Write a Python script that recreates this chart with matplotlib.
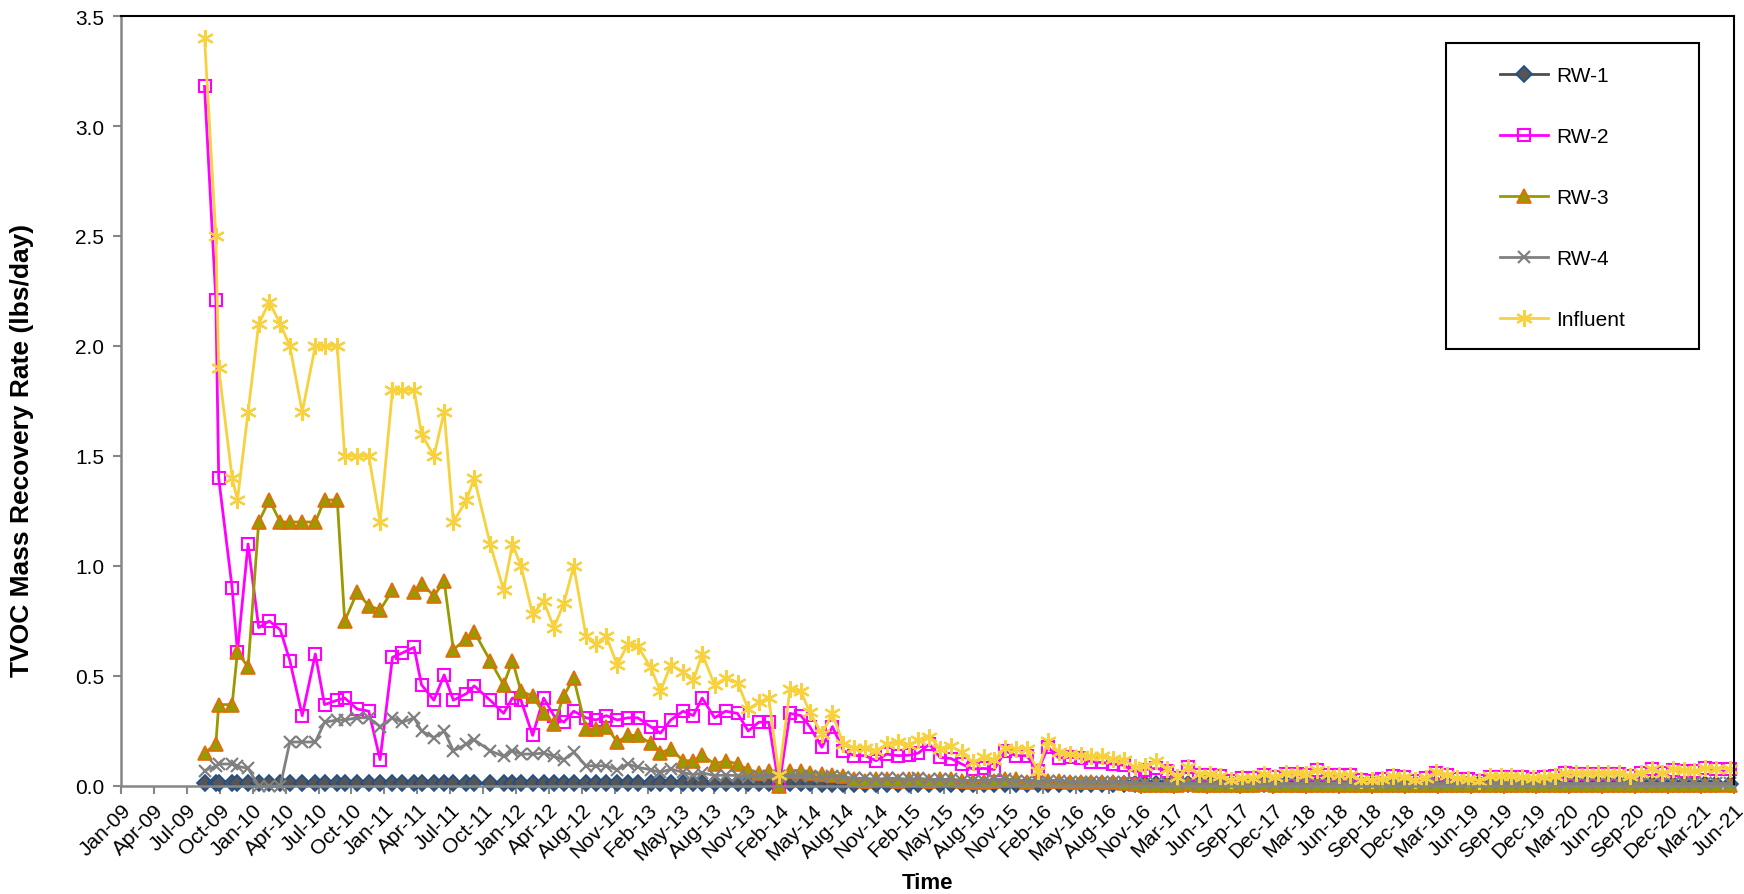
import matplotlib
matplotlib.use("Agg")
import matplotlib.pyplot as plt
from matplotlib.patches import Rectangle
import matplotlib.transforms as mtransforms
import numpy as np
import pandas as pd
import datetime as dt

plt.rcParams['font.family'] = ['Liberation Sans', 'DejaVu Sans']

# ---------------- data ----------------
sample_dates = [
    "2009-08-31", "2009-10-02", "2009-10-10", "2009-11-17", "2009-12-02",
    "2010-01-01", "2010-01-31", "2010-03-02", "2010-04-02", "2010-04-29",
    "2010-06-03", "2010-07-10", "2010-08-05", "2010-09-10", "2010-10-01",
    "2010-11-05", "2010-12-08", "2011-01-09", "2011-02-13", "2011-03-13",
    "2011-04-15", "2011-05-06", "2011-06-10", "2011-07-09", "2011-08-04",
    "2011-09-10", "2011-10-02", "2011-11-16", "2011-12-24", "2012-01-18",
    "2012-02-11", "2012-03-15", "2012-04-15", "2012-05-14", "2012-06-11",
    "2012-07-09", "2012-08-13", "2012-09-10", "2012-10-09", "2012-11-09",
    "2012-12-09", "2013-01-06", "2013-02-11", "2013-03-11", "2013-04-09",
    "2013-05-14", "2013-06-12", "2013-07-07", "2013-08-11", "2013-09-11",
    "2013-10-15", "2013-11-14", "2013-12-14", "2014-01-11", "2014-02-09",
    "2014-03-12", "2014-04-12", "2014-05-07",
    "2014-06-10", "2014-07-10", "2014-08-10", "2014-09-10", "2014-10-10", "2014-11-10", "2014-12-10",
    "2015-01-10", "2015-02-10", "2015-03-10", "2015-04-10", "2015-05-10", "2015-06-10",
    "2015-07-10", "2015-08-10", "2015-09-10", "2015-10-10", "2015-11-10", "2015-12-10",
    "2016-01-10", "2016-02-10", "2016-03-10", "2016-04-10", "2016-05-10", "2016-06-10",
    "2016-07-10", "2016-08-10", "2016-09-10", "2016-10-10", "2016-11-10", "2016-12-10",
    "2017-01-10", "2017-02-10", "2017-03-10", "2017-04-10", "2017-05-10", "2017-06-10",
    "2017-07-10", "2017-08-10", "2017-09-10", "2017-10-10", "2017-11-10", "2017-12-10",
    "2018-01-10", "2018-02-10", "2018-03-10", "2018-04-10", "2018-05-10", "2018-06-10",
    "2018-07-10", "2018-08-10", "2018-09-10", "2018-10-10", "2018-11-10", "2018-12-10",
    "2019-01-10", "2019-02-10", "2019-03-10", "2019-04-10", "2019-05-10", "2019-06-10",
    "2019-07-10", "2019-08-10", "2019-09-10", "2019-10-10", "2019-11-10", "2019-12-10",
    "2020-01-10", "2020-02-10", "2020-03-10", "2020-04-10", "2020-05-10", "2020-06-10",
    "2020-07-10", "2020-08-10", "2020-09-10", "2020-10-10", "2020-11-10", "2020-12-10",
    "2021-01-10", "2021-02-10", "2021-03-10", "2021-04-10", "2021-05-10", "2021-06-20",
]

rw1 = [
    0.012, 0.012, 0.012, 0.012, 0.012, 0.012, 0.012, 0.012, 0.012, 0.012,
    0.012, 0.012, 0.012, 0.012, 0.012, 0.012, 0.012, 0.012, 0.012, 0.012,
    0.012, 0.012, 0.012, 0.012, 0.012, 0.012, 0.012, 0.012, 0.012, 0.012,
    0.012, 0.012, 0.012, 0.012, 0.012, 0.012, 0.012, 0.012, 0.012, 0.012,
    0.012, 0.012, 0.012, 0.012, 0.012, 0.012, 0.012, 0.012, 0.012, 0.012,
    0.012, 0.012, 0.012, 0.012, 0.012, 0.012, 0.012, 0.012,
    0.010, 0.010, 0.010, 0.010, 0.010, 0.010, 0.010,
    0.010, 0.010, 0.010, 0.010, 0.010, 0.010, 0.010, 0.010, 0.010, 0.010, 0.010, 0.010,
    0.010, 0.010, 0.010, 0.010, 0.010, 0.010, 0.010, 0.010, 0.010, 0.010, 0.008, 0.008,
    0.008, 0.008, 0.008, 0.008, 0.008, 0.008, 0.008, 0.008, 0.008, 0.008, 0.008, 0.008,
    0.008, 0.008, 0.008, 0.008, 0.008, 0.008, 0.008, 0.008, 0.008, 0.008, 0.008, 0.008,
    0.008, 0.008, 0.008, 0.008, 0.008, 0.008, 0.008, 0.008, 0.008, 0.008, 0.008, 0.008,
    0.008, 0.008, 0.008, 0.008, 0.008, 0.008, 0.008, 0.008, 0.008, 0.008, 0.008, 0.008,
    0.008, 0.008, 0.008, 0.008, 0.008, 0.008,
]

rw2 = [
    3.18, 2.21, 1.40, 0.90, 0.61, 1.10, 0.72, 0.75, 0.71, 0.57,
    0.32, 0.60, 0.37, 0.39, 0.40, 0.35, 0.34, 0.12, 0.585, 0.605,
    0.63, 0.46, 0.39, 0.505, 0.39, 0.42, 0.455, 0.39, 0.33, 0.40,
    0.39, 0.23, 0.40, 0.32, 0.29, 0.34, 0.31, 0.30, 0.32, 0.30,
    0.31, 0.31, 0.27, 0.24, 0.30, 0.34, 0.32, 0.40, 0.31, 0.34,
    0.33, 0.25, 0.29, 0.29, 0.00, 0.33, 0.32, 0.27,
    0.176, 0.27, 0.16, 0.138, 0.138, 0.115, 0.145,
    0.138, 0.14, 0.15, 0.19, 0.13, 0.125, 0.10, 0.077, 0.08, 0.075, 0.16, 0.138,
    0.138, 0.068, 0.176, 0.127, 0.13, 0.127, 0.11, 0.107, 0.10, 0.094, 0.064, 0.075,
    0.08, 0.07, 0.035, 0.085, 0.05, 0.05, 0.045, 0.025, 0.035, 0.035, 0.05, 0.04,
    0.055, 0.055, 0.052, 0.072, 0.052, 0.048, 0.048, 0.026, 0.024, 0.031, 0.044, 0.04,
    0.025, 0.035, 0.058, 0.048, 0.034, 0.03, 0.023, 0.041, 0.041, 0.042, 0.039, 0.034,
    0.039, 0.045, 0.057, 0.055, 0.055, 0.055, 0.055, 0.055, 0.045, 0.058, 0.076, 0.058,
    0.074, 0.07, 0.066, 0.082, 0.077, 0.077,
]

rw3 = [
    0.15, 0.19, 0.37, 0.37, 0.61, 0.54, 1.20, 1.30, 1.20, 1.20,
    1.20, 1.20, 1.30, 1.30, 0.75, 0.88, 0.82, 0.80, 0.89, np.nan,
    0.88, 0.92, 0.865, 0.93, 0.62, 0.67, 0.70, 0.57, 0.46, 0.57,
    0.43, 0.41, 0.33, 0.28, 0.41, 0.49, 0.26, 0.26, 0.27, 0.20,
    0.23, 0.23, 0.195, 0.15, 0.17, 0.115, 0.115, 0.14, 0.10, 0.115,
    0.10, 0.074, 0.06, 0.07, 0.00, 0.07, 0.07, 0.06,
    0.055, 0.05, 0.045, 0.03, 0.025, 0.03, 0.03,
    0.025, 0.03, 0.03, 0.025, 0.03, 0.03, 0.025, 0.02, 0.02, 0.025, 0.03, 0.03,
    0.02, 0.03, 0.025, 0.025, 0.02, 0.02, 0.02, 0.02, 0.02, 0.015, 0.01, 0.005,
    0.005, 0.005, 0.005, 0.008, 0.005, 0.005, 0.005, 0.005, 0.005, 0.005, 0.008, 0.005,
    0.005, 0.005, 0.005, 0.005, 0.005, 0.005, 0.005, 0.005, 0.005, 0.005, 0.005, 0.005,
    0.005, 0.005, 0.005, 0.005, 0.005, 0.005, 0.005, 0.005, 0.005, 0.005, 0.005, 0.005,
    0.005, 0.005, 0.005, 0.005, 0.005, 0.005, 0.005, 0.005, 0.005, 0.005, 0.005, 0.005,
    0.005, 0.005, 0.005, 0.005, 0.005, 0.005,
]

rw4 = [
    0.07, 0.09, 0.10, 0.10, 0.09, 0.08, 0.00, 0.00, 0.00, 0.20,
    0.20, 0.20, 0.29, 0.30, 0.30, 0.31, 0.31, 0.27, 0.31, 0.29,
    0.31, 0.25, 0.22, 0.25, 0.16, 0.19, 0.21, 0.16, 0.135, 0.16,
    0.145, 0.145, 0.15, 0.135, 0.12, 0.153, 0.092, 0.092, 0.092, 0.074,
    0.10, 0.085, 0.074, 0.062, 0.077, 0.062, 0.05, 0.06, 0.047, 0.05,
    0.047, 0.04, 0.047, 0.047, 0.047, 0.047, 0.047, 0.045,
    0.04, 0.045, 0.04, 0.035, 0.035, 0.03, 0.035,
    0.035, 0.03, 0.035, 0.03, 0.03, 0.03, 0.025, 0.025, 0.025, 0.03, 0.03, 0.025,
    0.025, 0.02, 0.025, 0.025, 0.02, 0.02, 0.02, 0.02, 0.02, 0.02, 0.015, 0.015,
    0.012, 0.012, 0.012, 0.012, 0.012, 0.012, 0.012, 0.012, 0.012, 0.012, 0.012, 0.012,
    0.012, 0.012, 0.012, 0.012, 0.012, 0.012, 0.012, 0.012, 0.012, 0.012, 0.012, 0.012,
    0.012, 0.012, 0.012, 0.012, 0.012, 0.012, 0.012, 0.012, 0.012, 0.012, 0.012, 0.012,
    0.012, 0.012, 0.012, 0.012, 0.012, 0.012, 0.012, 0.012, 0.012, 0.012, 0.012, 0.012,
    0.012, 0.012, 0.012, 0.012, 0.012, 0.012,
]

influent = [
    3.40, 2.50, 1.90, 1.40, 1.30, 1.70, 2.10, 2.20, 2.10, 2.00,
    1.70, 2.00, 2.00, 2.00, 1.50, 1.50, 1.50, 1.20, 1.80, 1.80,
    1.80, 1.60, 1.50, 1.70, 1.20, 1.30, 1.40, 1.10, 0.89, 1.10,
    1.00, 0.78, 0.84, 0.72, 0.83, 1.00, 0.68, 0.645, 0.68, 0.55,
    0.645, 0.635, 0.54, 0.43, 0.55, 0.52, 0.48, 0.60, 0.46, 0.49,
    0.47, 0.35, 0.38, 0.40, 0.05, 0.44, 0.43, 0.335,
    0.236, 0.33, 0.19, 0.175, 0.175, 0.16, 0.19,
    0.20, 0.185, 0.21, 0.225, 0.17, 0.18, 0.153, 0.108, 0.13, 0.12, 0.175, 0.17,
    0.17, 0.07, 0.206, 0.153, 0.145, 0.14, 0.135, 0.135, 0.125, 0.118, 0.085, 0.092,
    0.115, 0.077, 0.04, 0.085, 0.055, 0.053, 0.047, 0.028, 0.038, 0.038, 0.053, 0.043,
    0.058, 0.058, 0.056, 0.075, 0.056, 0.051, 0.051, 0.029, 0.027, 0.034, 0.047, 0.042,
    0.027, 0.038, 0.062, 0.051, 0.036, 0.032, 0.025, 0.044, 0.044, 0.044, 0.041, 0.036,
    0.041, 0.047, 0.06, 0.057, 0.057, 0.057, 0.057, 0.057, 0.047, 0.06, 0.079, 0.06,
    0.076, 0.073, 0.068, 0.084, 0.079, 0.079,
]

series_names = ["RW-1", "RW-2", "RW-3", "RW-4", "Influent"]

x_tick_labels = [
    "Jan-09", "Apr-09", "Jul-09", "Oct-09", "Jan-10", "Apr-10", "Jul-10", "Oct-10",
    "Jan-11", "Apr-11", "Jul-11", "Oct-11", "Jan-12", "Apr-12", "Aug-12", "Nov-12",
    "Feb-13", "May-13", "Aug-13", "Nov-13", "Feb-14", "May-14", "Aug-14", "Nov-14",
    "Feb-15", "May-15", "Aug-15", "Nov-15", "Feb-16", "May-16", "Aug-16", "Nov-16",
    "Mar-17", "Jun-17", "Sep-17", "Dec-17", "Mar-18", "Jun-18", "Sep-18", "Dec-18",
    "Mar-19", "Jun-19", "Sep-19", "Dec-19", "Mar-20", "Jun-20", "Sep-20", "Dec-20",
    "Mar-21", "Jun-21",
]
y_ticks = [0.0, 0.5, 1.0, 1.5, 2.0, 2.5, 3.0, 3.5]

# ---------------- figure ----------------
W, H = 1744, 895
fig = plt.figure(figsize=(W / 100, H / 100), dpi=100)
ax_l, ax_r, ax_t, ax_b = 121, 1734, 17, 787
ax = fig.add_axes([ax_l / W, 1 - ax_b / H, (ax_r - ax_l) / W, (ax_b - ax_t) / H])

x = pd.to_datetime(sample_dates)

styles = [
    dict(color='#4D4D4D', marker='D', ms=8, mfc='#555555', mec='#1F4E8C', mew=1.2),
    dict(color='#FF00FF', marker='s', ms=9, mfc='none', mec='#FF00FF', mew=1.5),
    dict(color='#999900', marker='^', ms=9.5, mfc='#999900', mec='#E36C09', mew=1.2),
    dict(color='#808080', marker='x', ms=8, mec='#808080', mew=1.6),
    dict(color='#F7D23E', marker=(6, 2, 0), ms=12, mec='#F7D23E', mew=1.6),
]
for vals, name, st in zip([rw1, rw2, rw3, rw4, influent], series_names, styles):
    ax.plot(x, vals, lw=2.0, label=name, clip_on=False, **st)

# x axis: date axis starting 2009-01-07 with a major unit of 93 days
axis_start = dt.datetime(2009, 1, 7)
tick_pos = [axis_start + dt.timedelta(days=93 * k) for k in range(len(x_tick_labels))]
ax.set_xlim(tick_pos[0], tick_pos[-1])
ax.set_xticks(tick_pos)
ax.set_xticklabels(x_tick_labels, rotation=45, ha='right', va='top',
                   rotation_mode='anchor', fontsize=15)
shift = mtransforms.ScaledTranslation(6 / 100, -3 / 100, fig.dpi_scale_trans)
for lbl in ax.get_xticklabels():
    lbl.set_transform(lbl.get_transform() + shift)

ax.set_ylim(0, 3.5)
ax.set_yticks(y_ticks)
ax.set_yticklabels([f"{v:.1f}" for v in y_ticks], fontsize=15)

ax.tick_params(axis='both', direction='out', length=6, width=1.5, color='#868686')
ax.tick_params(axis='x', pad=4)
ax.tick_params(axis='y', pad=6)

for s in ['left', 'bottom']:
    ax.spines[s].set_color('#868686')
    ax.spines[s].set_linewidth(1.8)
for s in ['top', 'right']:
    ax.spines[s].set_color('black')
    ax.spines[s].set_linewidth(1.5)

# axis titles
fig.text(22 / W, 1 - 450 / H, "TVOC Mass Recovery Rate (lbs/day)", rotation=90,
         ha='center', va='center', fontsize=19, fontweight='bold')
fig.text(927 / W, 1 - 884 / H, "Time", ha='center', va='center',
         fontsize=16, fontweight='bold')

# legend
leg = ax.legend(loc='upper left', bbox_to_anchor=(1500 / W, 1 - 67 / H),
                bbox_transform=fig.transFigure, frameon=False, fontsize=15,
                labelspacing=2.02, handlelength=2.3, handletextpad=0.4,
                borderpad=0, borderaxespad=0, numpoints=1)
fig.add_artist(Rectangle((1446 / W, 1 - 350 / H), (1699 - 1446) / W, (350 - 44) / H,
                         transform=fig.transFigure, fill=False, ec='black', lw=1.5))

fig.savefig("out.png", dpi=100)
